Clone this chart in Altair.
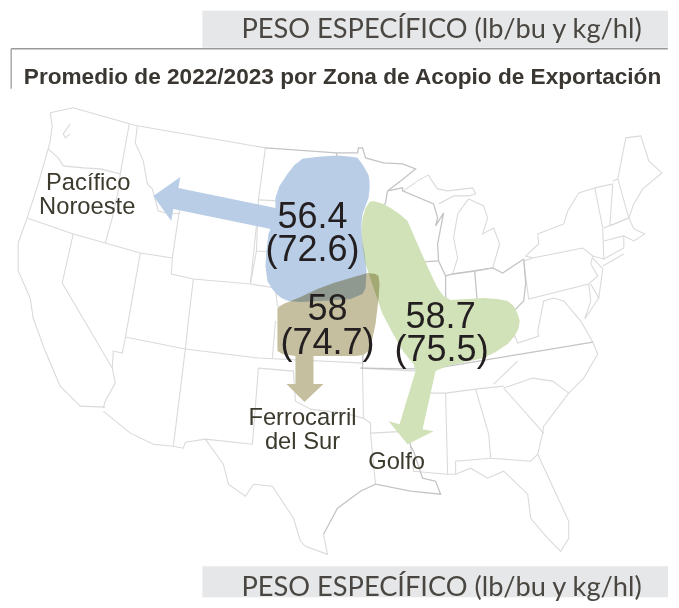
import altair as alt
import pandas as pd

W, H = 663, 592
S = 0.99  # the photographed page comes out at this scale about its centre
CX, CY = 339.5, 304
NUDGE_X, NUDGE_Y = 0.5, 1.0
DOM_X = [CX + (8 - CX) * S - NUDGE_X, CX + (8 + W - CX) * S - NUDGE_X]
DOM_Y = [CY + (8 - CY) * S - NUDGE_Y, CY + (8 + H - CY) * S - NUDGE_Y]

BORDERS_LIGHT = {
    "wa_top": [(50,112),(73,107),(129,123),(137,125),(265,147)],
    "wa_coast": [(50,112),(52,125),(50,140),(48,148),(38,183),(27,217),(18,242),(18,270),(30,297),(33,317),(45,350),(60,385),(80,405)],
    "puget": [(70,123),(63,133),(65,137),(70,133)],
    "wa_or": [(48,148),(58,157),(63,165),(83,167),(100,168),(120,173)],
    "wa_id": [(129,123),(120,173),(118,190),(112,217),(105,242)],
    "or_s": [(27,217),(73,233),(105,242),(140,252),(172,257)],
    "id_mt": [(137,125),(135,142),(143,160),(147,183),(152,188),(158,210),(170,213),(180,212)],
    "wy": [(180,203),(257,215),(250,283),(193,278),(171,273),(172,257),(180,203)],
    "mt_e": [(265,147),(258,199),(256,250),(250,283)],
    "mt_s": [(258,199),(340,203)],
    "sd_ne": [(256,250),(340,255)],
    "ne_pan": [(250,283),(275,287),(277,305),(355,307)],
    "up_mi": [(403,190),(417,180),(428,174),(430,178),(437,188),(447,190),(472,187),(475,193),(468,195),(453,195),(438,203)],
    "lower_mi": [(468,198),(483,205),(487,217),(482,233),(493,227),(499,243),(492,267),(452,273),(457,257),(453,237),(457,213),(468,198)],
    "pa": [(532,257),(582,247),(592,255),(590,263),(597,275),(588,283),(528,298),(523,260),(532,257)],
    "ny": [(532,257),(525,255),(538,243),(537,233),(563,223),(567,210),(578,192),(594,187),(602,227),(603,258),(592,255)],
    "vt": [(594,187),(612,183),(609,225)],
    "nh": [(612,180),(617,178),(628,217),(609,225)],
    "ma": [(603,227),(628,217),(633,228),(644,233),(633,240),(623,235),(603,240)],
    "ct": [(623,235),(623,247),(603,258)],
    "li": [(602,265),(623,253)],
    "me": [(617,178),(625,137),(640,135),(648,160),(661,172),(642,188),(633,203),(628,217)],
    "nj": [(592,257),(602,268),(598,297),(590,283)],
    "chesa": [(588,283),(590,300),(584,318),(598,297)],
    "wv": [(508,320),(517,342),(538,335),(537,330),(543,300),(553,297),(563,300),(580,320),(592,341)],
    "tn_s": [(418,392),(445,392),(475,388),(503,385)],
    "tn_nc": [(493,383),(517,360)],
    "nc_sc": [(503,387),(532,377),(552,380),(568,392)],
    "nc_coast": [(568,392),(583,377),(597,353),(592,341)],
    "sc_ga": [(503,387),(543,432)],
    "sc_coast": [(568,392),(543,425),(542,432),(537,453)],
    "ga": [(475,388),(488,433),(490,457),(530,460),(537,453)],
    "fl": [(537,453),(568,520),(568,537),(560,550),(547,537),(530,517),(527,493),(503,470),(487,477),(470,467),(455,473),(455,460),(490,457)],
    "al_ms": [(445,392),(447,473),(455,473)],
    "la": [(370,432),(408,430)],
    "la_ms": [(410,445),(413,470),(447,473)],
    "la_tx": [(370,432),(375,483)],
    "ar": [(362,368),(363,417),(370,422),(370,432)],
    "ar_n": [(360,367),(417,370)],
    "nv_ca": [(73,233),(62,282),(112,367),(115,382),(105,400),(103,407)],
    "nv_ut": [(140,252),(128,320),(125,337),(122,352),(113,350),(112,367)],
    "az_n": [(125,336),(185,348)],
    "ut_co": [(193,278),(188,320),(185,348),(173,445)],
    "az_s": [(103,410),(130,432),(153,443),(173,445),(183,447),(185,441),(205,438),(252,443),(258,367)],
    "ca_s": [(80,405),(105,406)],
    "nm_co": [(185,348),(258,357),(363,362)],
    "ks_co": [(275,320),(272,357)],
    "ok": [(258,367),(293,370),(295,400),(310,408),(343,412),(363,417)],
    "tx": [(205,438),(223,463),(228,483),(245,495),(253,483),(272,485),(293,517),(300,540),(305,545),(327,553),(323,533)],
}

BORDERS_DARK = {
    "nd_mn": [(265,147),(336,152),(357,152),(358,147),(362,147),(365,157),(383,162),(402,163),(415,168),(400,180),(387,190),(402,187),(402,190),(433,203),(437,217),(435,225),(443,212),(437,243),(438,260),(445,275),(452,273)],
    "mn_w": [(336,152),(340,190),(340,246),(345,270),(358,297),(368,315),(363,335),(362,368)],
    "mn_wi": [(387,190),(385,202),(382,207),(382,222),(400,240),(402,255),(408,263),(413,273),(403,283),(400,300),(405,320),(418,345),(425,365),(418,392),(407,420),(410,445),(413,450),(422,477),(435,480),(440,493),(410,490),(375,483),(360,490),(337,507),(323,533)],
    "ia_top": [(340,246),(400,245)],
    "il_top": [(408,262),(438,260)],
    "ia_s": [(345,297),(400,297)],
    "in_oh_top": [(452,273),(474,270),(492,267),(502,272),(523,258)],
    "il_in": [(445,275),(445,303),(448,325),(440,345)],
    "in_oh": [(474,270),(478,317)],
    "oh_r": [(440,345),(452,335),(478,317),(497,322),(508,320),(515,308),(523,300),(525,282),(523,258)],
    "ky_tn": [(360,367),(430,368),(520,353),(592,341)],
}

TOP_LINES = {"rule_h": [(11,48),(667,48)], "rule_v": [(11,48),(11,88)]}

BLUE_AREA = [(333,155),(340,155),(350,156),(357,157),(363,165),(368,174),(369,180),(369,188),(368,197),(365,205),(362,213),(361,222),(361,232),(362,242),(364,252),(366,270),(365,287),(362,293),(350,298),(320,300),(300,301),(288,300),(281,297),(276,293),(271,287),(267,280),(265,265),(266,250),(268,233),(270,228),(173,208),(171,220),(153,195),(180,176),(178,187),(275,207),(275,197),(279,185),(287,173),(294,164),(302,158),(318,156)]
TAN_AREA = [(277,307),(283,303),(300,296),(317,288),(333,282),(350,277),(367,272),(375,273),(378,275),(379,283),(378,298),(375,323),(372,337),(368,350),(363,354),(355,355),(313,355),(313,383),(323,383),(304,401),(286,383),(295,383),(295,355),(282,353),(277,350),(277,325)]
GREEN_AREA = [(373,200),(383,203),(390,207),(399,213),(407,220),(413,234),(420,250),(428,268),(437,287),(443,295),(450,299),(467,298),(483,297),(497,298),(507,300),(513,305),(517,313),(519,320),(518,327),(514,335),(507,343),(495,351),(483,357),(465,361),(447,365),(435,370),(422,428),(433,430),(407,443),(388,420),(399,423),(415,370),(413,363),(403,351),(392,332),(382,313),(373,287),(365,263),(362,245),(361,230),(362,217),(365,207),(369,201)]
AREA_COLORS = ["#b9cde6", "#d2e2b8", "#c6bf9f"]

BANDS_X1 = [202, 202]
BANDS_X2 = [DOM_X[1], DOM_X[1]]
BANDS_Y1 = [DOM_Y[0], 565]
BANDS_Y2 = [47, DOM_Y[1]]

BIG_TEXT = ["56.4", "(72.6)", "58", "(74.7)", "58.7", "(75.5)"]
BIG_X = [312, 312, 327, 327, 440, 441]
BIG_Y = [227, 260, 319, 353, 327, 360]
LABEL_TEXT = ["Pacífico", "Noroeste", "Ferrocarril", "del Sur", "Golfo"]
LABEL_X = [88, 87, 302, 302, 396]
LABEL_Y = [189, 213, 424, 448, 468]
BAND_TEXT = ["PESO ESPECÍFICO (lb/bu y kg/hl)", "PESO ESPECÍFICO (lb/bu y kg/hl)"]
BAND_TEXT_X = [441, 441]
BAND_TEXT_Y = [37, 595]
TITLE_TEXT = ["Promedio de 2022/2023 por Zona de Acopio de Exportación"]
TITLE_X = [342]
TITLE_Y = [83]

xs = alt.Scale(domain=DOM_X, range=[0, W], zero=False, nice=False)
ys = alt.Scale(domain=DOM_Y, range=[0, H], zero=False, nice=False)
X = lambda f: alt.X(f, type="quantitative", scale=xs, axis=None)
Y = lambda f: alt.Y(f, type="quantitative", scale=ys, axis=None)


def lines_df(d):
    return pd.DataFrame(
        [{"g": k, "i": i, "x": p[0], "y": p[1]} for k, pts in d.items() for i, p in enumerate(pts)]
    )


def feature(pts, color):
    ring = [list(p) for p in pts]
    ring.append(ring[0])
    return {"type": "Feature", "properties": {"color": color},
            "geometry": {"type": "Polygon", "coordinates": [ring]}}


def line_layer(d, color, width):
    return alt.Chart(lines_df(d)).mark_line(color=color, strokeWidth=width).encode(
        x=X("x"), y=Y("y"), detail="g:N", order="i:Q"
    )


bands = alt.Chart(pd.DataFrame({"x": BANDS_X1, "x2": BANDS_X2, "y": BANDS_Y1, "y2": BANDS_Y2})).mark_rect(
    color="#e6e7e8"
).encode(x=X("x"), x2="x2", y=Y("y"), y2="y2")

features = [feature(BLUE_AREA, AREA_COLORS[0]), feature(GREEN_AREA, AREA_COLORS[1]), feature(TAN_AREA, AREA_COLORS[2])]
areas = alt.Chart(alt.Data(values=features)).mark_geoshape(strokeWidth=0, blend="multiply").encode(
    color=alt.Color("properties.color:N", scale=None)
).project(
    type="identity", scale=1 / S,
    translate=[(CX - NUDGE_X * 0) * (1 - 1 / S) - 8 + NUDGE_X / S, CY * (1 - 1 / S) - 8 + NUDGE_Y / S],
)


def text(labels, xv, yv, size, color, font, bold=False):
    return alt.Chart(pd.DataFrame({"t": labels, "x": xv, "y": yv})).mark_text(
        align="center", baseline="alphabetic", fontSize=size / S, color=color, font=font,
        fontWeight="bold" if bold else "normal",
    ).encode(x=X("x"), y=Y("y"), text="t:N")


chart = alt.layer(
    bands,
    line_layer(TOP_LINES, "#9a9b9d", 1.3),
    line_layer(BORDERS_LIGHT, "#dadada", 1.1),
    line_layer(BORDERS_DARK, "#c4c4c4", 1.3),
    areas,
    text(BIG_TEXT, BIG_X, BIG_Y, 36, "#231f20", "Liberation Sans"),
    text(LABEL_TEXT, LABEL_X, LABEL_Y, 23.7, "#3d3a2e", "Liberation Sans"),
    text(BAND_TEXT, BAND_TEXT_X, BAND_TEXT_Y, 27.2, "#4a4641", "Lato"),
    text(TITLE_TEXT, TITLE_X, TITLE_Y, 22.6, "#3a3733", "Liberation Sans", bold=True),
).properties(width=W, height=H, padding=0, background="white").configure_view(stroke=None)

chart.save("out.html", embed_options={"renderer": "svg", "actions": False})
